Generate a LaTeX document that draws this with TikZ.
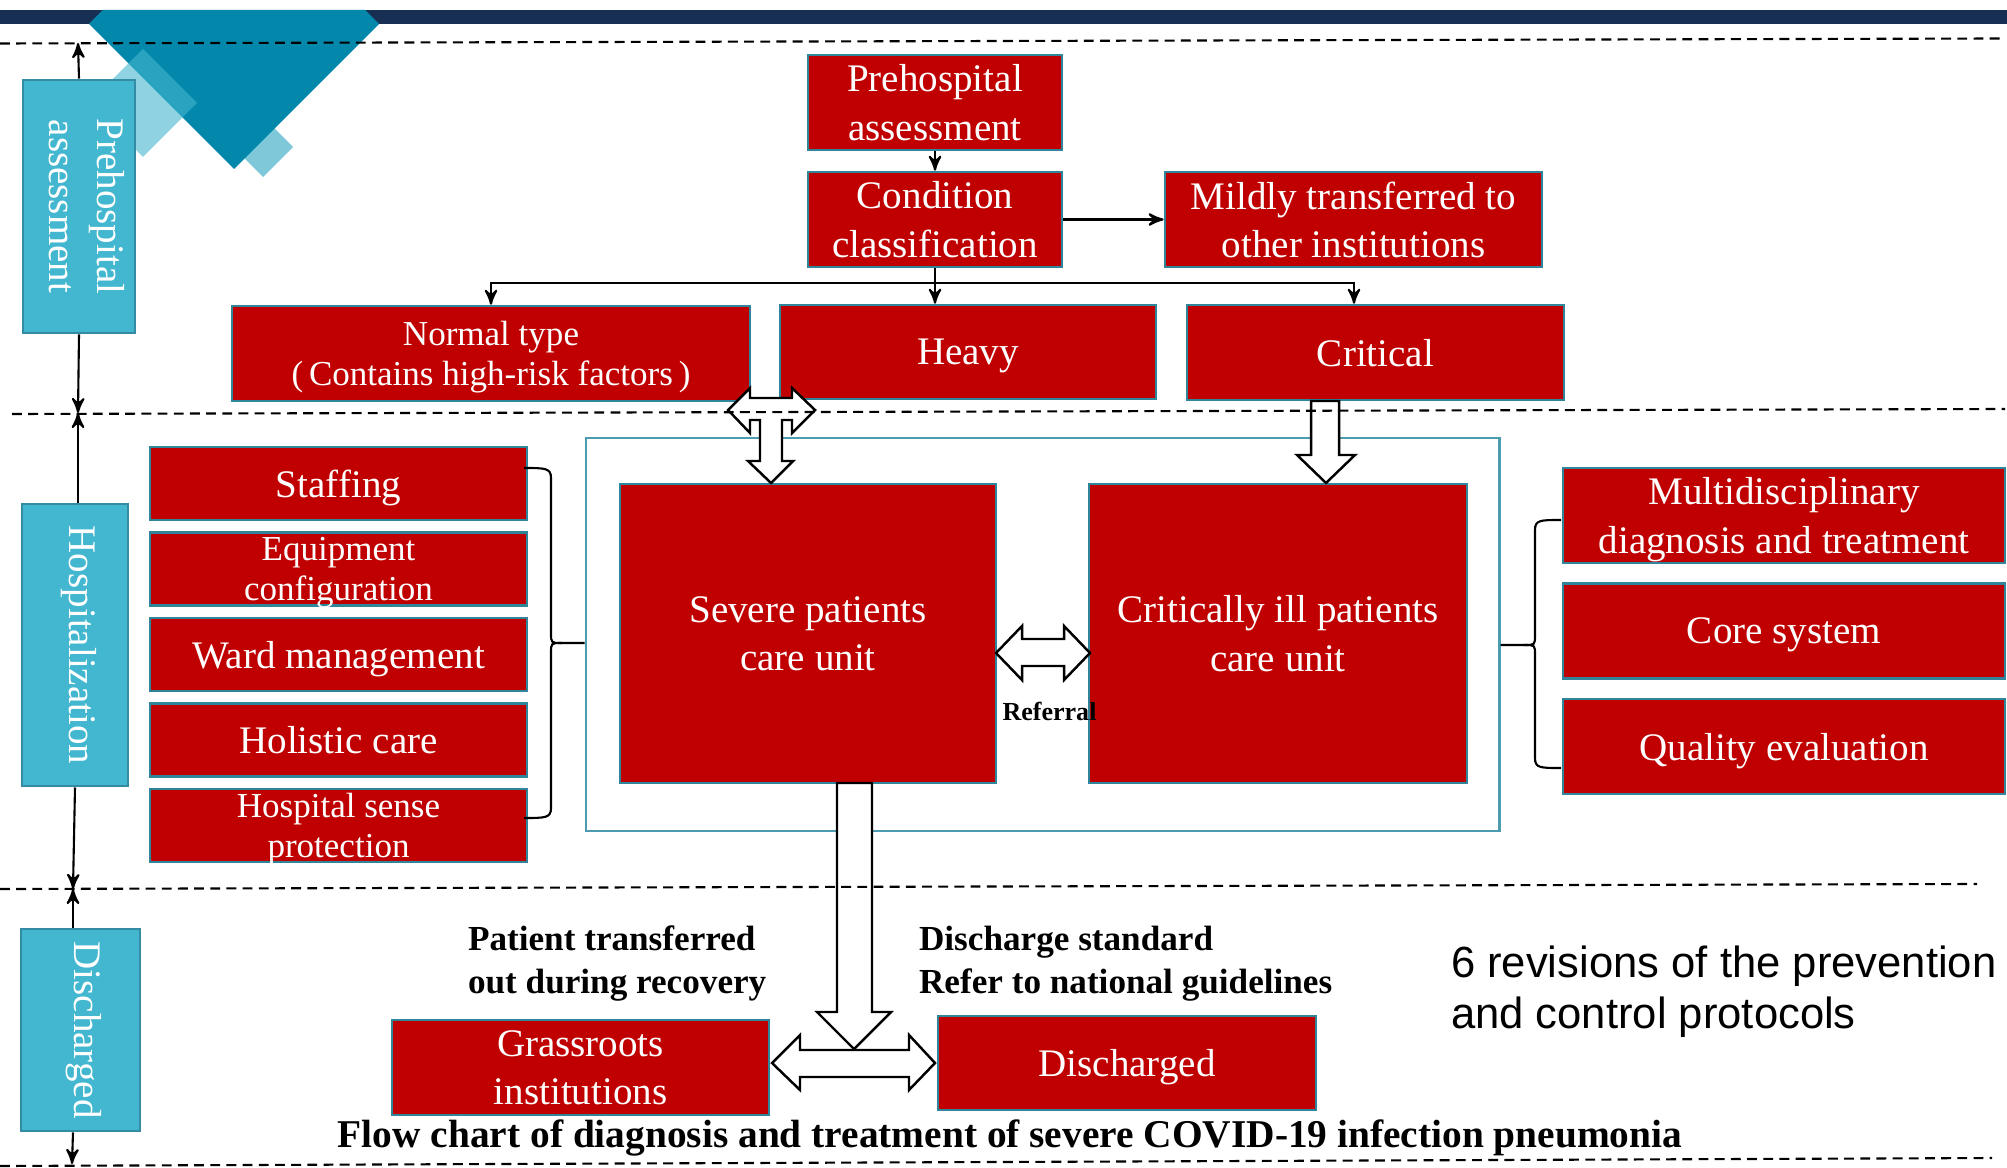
\documentclass[tikz,border=0pt]{standalone}
\usepackage{fontspec}
\setmainfont{Liberation Serif}
\newfontfamily\arialfont{Liberation Sans}
\usetikzlibrary{arrows,positioning}

\definecolor{boxred}{RGB}{192,0,0}
\definecolor{boxedge}{RGB}{49,133,155}
\definecolor{phasefill}{RGB}{67,183,208}
\definecolor{phaseedge}{RGB}{52,140,164}
\definecolor{frameedge}{RGB}{75,155,177}
\definecolor{barnavy}{RGB}{24,47,84}
\definecolor{decoteal}{RGB}{3,136,172}
\definecolor{decolight}{RGB}{68,182,208}
\definecolor{decosmall}{RGB}{126,200,218}

\begin{document}
\begin{tikzpicture}[x=0.01cm,y=-0.01cm,>=stealth',semithick,
                    font=\fontsize{11.1}{13.7}\selectfont]

  \tikzstyle{redbox}=[rectangle,draw=boxedge,line width=0.7pt,fill=boxred,text=white,align=center,inner sep=0pt,text depth=0pt]
  \tikzstyle{phasebox}=[rectangle,draw=phaseedge,line width=0.8pt,fill=phasefill,text=white,align=center,inner sep=0pt,text depth=0.45em,rotate=-90]
  \tikzstyle{smalltext}=[font=\fontsize{9.96}{11.4}\selectfont]
  \tikzstyle{remark}=[align=left,inner sep=0pt,font=\bfseries\fontsize{10}{12.2}\selectfont]
  \tikzstyle{blockarrow}=[draw=black,fill=white,line width=0.7pt]
  \tikzstyle{phaseline}=[dash pattern=on 2.8pt off 1.8pt,line width=0.6pt]

  \useasboundingbox (0,0) rectangle (2007,1167);

  \fill[barnavy] (0,10) rectangle (2007,24);
  \fill[decosmall] (263,117) -- (293,147) -- (263,177) -- (233,147) -- cycle;
  \fill[decoteal] (103,10) -- (365,10) -- (379,24) -- (234,169) -- (89,24) -- cycle;
  \fill[decolight,opacity=0.6] (143,49) -- (197,103) -- (143,157) -- (89,103) -- cycle;

  \node[phasebox,minimum width=2.53cm,minimum height=1.12cm] (PHA) at (79,206.5)  {Prehospital\\assessment};
  \node[phasebox,minimum width=2.82cm,minimum height=1.06cm] (HSP) at (75,645)    {Hospitalization};
  \node[phasebox,minimum width=2.02cm,minimum height=1.19cm] (DSC) at (80.5,1030) {Discharged};

  \node[redbox,minimum width=2.54cm,minimum height=0.95cm] (PRE) at (935,102.5)    {Prehospital\\assessment};
  \node[redbox,minimum width=2.54cm,minimum height=0.95cm] (CLS) at (935,219.5)    {Condition\\classification};
  \node[redbox,minimum width=3.77cm,minimum height=0.95cm] (MLD) at (1353.5,219.5) {Mildly transferred to\\other institutions};

  \node[redbox,smalltext,minimum width=5.18cm,minimum height=0.95cm] (NRM) at (491,353.5) {Normal type\\(\,Contains high-risk factors\,)};
  \node[redbox,minimum width=3.76cm,minimum height=0.94cm] (HVY) at (968,352)      {Heavy};
  \node[redbox,minimum width=3.77cm,minimum height=0.95cm] (CRT) at (1375.5,352.5) {Critical};

  \node[draw=frameedge,line width=0.7pt,minimum width=9.13cm,minimum height=3.93cm,inner sep=0pt] (FRM) at (1042.5,634.5) {};
  \node[redbox,minimum width=3.76cm,minimum height=2.99cm] (SEV) at (808,633.5)  {Severe patients\\care unit};
  \node[redbox,minimum width=3.78cm,minimum height=2.99cm] (CIL) at (1278,633.5) {Critically ill patients\\care unit};

  \node[redbox,minimum width=3.77cm,minimum height=0.73cm] (STF) at (338.5,483.5) {Staffing};
  \node[redbox,smalltext,minimum width=3.77cm,minimum height=0.73cm] (EQP) [below=0.1cm of STF] {Equipment\\configuration};
  \node[redbox,minimum width=3.77cm,minimum height=0.73cm] (WRD) [below=0.1cm of EQP] {Ward management};
  \node[redbox,minimum width=3.77cm,minimum height=0.73cm] (HOL) [below=0.1cm of WRD] {Holistic care};
  \node[redbox,smalltext,minimum width=3.77cm,minimum height=0.73cm] (HSN) [below=0.1cm of HOL] {Hospital sense\\protection};

  \node[redbox,minimum width=4.42cm,minimum height=0.95cm] (MDT) at (1784,515.5) {Multidisciplinary\\diagnosis and treatment};
  \node[redbox,minimum width=4.42cm,minimum height=0.95cm] (COR) [below=0.18cm of MDT] {Core system};
  \node[redbox,minimum width=4.42cm,minimum height=0.95cm] (QLT) [below=0.18cm of COR] {Quality evaluation};

  \node[redbox,minimum width=3.77cm,minimum height=0.95cm] (GRS) at (580.5,1067.5) {Grassroots\\institutions};
  \node[redbox,minimum width=3.78cm,minimum height=0.94cm] (DIS) at (1127,1063)    {Discharged};

  \node[remark,anchor=west] (TRO) at (467,963.5) {Patient transferred\\out during recovery};
  \node[remark,anchor=west] (DST) at (918,963.5) {Discharge standard\\Refer to national guidelines};
  \node[inner sep=0pt,anchor=base,font=\bfseries\fontsize{7.4}{9}\selectfont] (REF) at (1049.5,720) {Referral};
  \node[inner sep=0pt,anchor=west,align=left,font=\arialfont\fontsize{12.4}{14.5}\selectfont] (REV) at (1450,991.5) {6 revisions of the prevention\\and control protocols};
  \node[inner sep=0pt,anchor=base,font=\bfseries\fontsize{11.2}{13}\selectfont] (TTL) at (1010,1147) {Flow chart of diagnosis and treatment of severe COVID-19 infection pneumonia};

  \path[->]
  (PRE) edge (CLS)
  (CLS) edge (MLD)
  ;
  \draw (CLS.south) -- ++(0,15) coordinate (BR);
  \draw[->] (BR) -| (NRM.north);
  \draw[->] (BR) -- (BR |- HVY.north);
  \draw[->] (BR) -| ([xshift=-0.215cm]CRT.north);

  \draw (524,468) .. controls (545,468) and (551,468) .. (551,478) -- (551,633)
        .. controls (551,643) .. (562,643) -- (FRM.west |- 0,643);
  \draw (562,643) .. controls (551,643) .. (551,653) -- (551,808)
        .. controls (551,818) and (545,818) .. (524,818);
  \draw (1561,520) .. controls (1540,520) and (1535,520) .. (1535,530) -- (1535,635)
        .. controls (1535,645) .. (1524,645) -- (FRM.east |- 0,645);
  \draw (1524,645) .. controls (1535,645) .. (1535,655) -- (1535,758)
        .. controls (1535,768) and (1540,768) .. (1561,768);

  \draw[blockarrow] (728,410) -- (750,388) -- (750,398) -- (792,398) -- (792,388) -- (815,410)
        -- (792,433) -- (792,420) -- (782,420) -- (782,461) -- (793,461) -- (771,483)
        -- (748,461) -- (760,461) -- (760,420) -- (750,420) -- (750,433) -- cycle;
  \draw[blockarrow] (1311,401) -- (1339,401) -- (1339,455) -- (1355,455) -- (1326,483)
        -- (1297,455) -- (1311,455) -- cycle;
  \draw[blockarrow] (996,653) -- (1022,626) -- (1022,639) -- (1064,639) -- (1064,626) -- (1090,653)
        -- (1064,680) -- (1064,666) -- (1022,666) -- (1022,680) -- cycle;
  \draw[blockarrow] (837,783) -- (872,783) -- (872,1012) -- (891,1012) -- (854,1049)
        -- (817,1012) -- (837,1012) -- cycle;
  \draw[blockarrow] (772,1063) -- (800,1035) -- (800,1050) -- (909,1050) -- (909,1035) -- (935,1063)
        -- (909,1090) -- (909,1077) -- (800,1077) -- (800,1090) -- cycle;

  \draw[phaseline] (0,43.5) -- (2000,38.5);
  \draw[phaseline] (12,414) -- (2005,409);
  \draw[phaseline] (0,889) -- (1977,884);
  \draw[phaseline] (0,1166) -- (1992,1158);

  \coordinate (T1) at (78,43);
  \coordinate (T2) at (78,413);
  \coordinate (T3) at (73,889);
  \coordinate (T4) at (72,1164);

  \draw[->] (PHA.west) -- (T1);
  \draw[->] (PHA.east) -- (T2);
  \draw[->] (T2 |- HSP.west) -- (T2);
  \draw[->] (HSP.east) -- (T3);
  \draw[->] (T3 |- DSC.west) -- (T3);
  \draw[->] (T3 |- DSC.east) -- (T4);

\end{tikzpicture}
\end{document}
